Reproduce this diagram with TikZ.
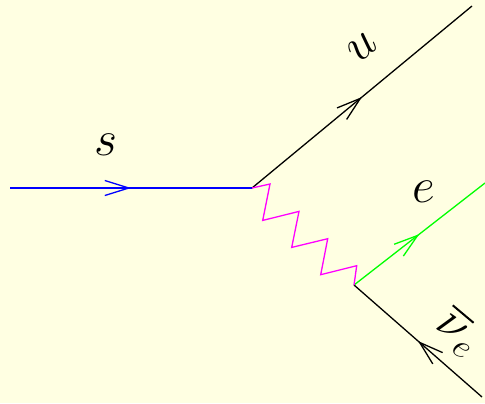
\documentclass[tikz,border=0pt]{standalone}
\usepackage{amsmath}
\usepackage{xcolor}
\usetikzlibrary{arrows.meta, decorations.markings}

\definecolor{paper}{RGB}{255,255,226}
\definecolor{wpink}{RGB}{255,0,255}
\definecolor{egreen}{RGB}{0,255,0}
\definecolor{sblue}{RGB}{0,0,255}
\tikzset{
  fermion/.style={line width=0.65pt, postaction={decorate},
    decoration={markings, mark=at position 0.5 with {\arrow{Straight Barb[length=12pt, width=7.5pt, line width=0.65pt]}}}},
  boson/.style={line width=0.65pt, wpink, line join=miter},
  lbl/.style={inner sep=0pt, font=\fontsize{26}{30}\selectfont}
}

\begin{document}
\begin{tikzpicture}[x=0.5pt, y=-0.5pt]
      \useasboundingbox[fill=paper] (0,0) rectangle (485,403);

      % vertices and free ends
      \coordinate (va) at (252,188);
      \coordinate (vb) at (354,285);
      \coordinate (sin) at (10,188);
      \coordinate (uout) at (472,6);
      \coordinate (eout) at (485,183);
      \coordinate (nuout) at (482,397);

      % fermion lines
      \draw[fermion, sblue] (sin) -- (va);
      \draw[fermion] (va) -- (uout);
      \draw[fermion, egreen] (vb) -- (eout);
      \draw[fermion] (nuout) -- (vb);

      % W propagator
      \draw[boson] (va) -- ++(18,-4) -- ++(-7.3,36.4) -- ++(36.3,-9) -- ++(-7.3,36)
        -- ++(36,-8.7) -- ++(-7,36) -- ++(36,-9) -- (vb);

      % labels
      \node[lbl] (ls) at (106,145) {$s$};
      \node[lbl, rotate=39.6] (lu) at (362,47) {$u$};
      \node[lbl] (le) at (424,192) {$e$};
      \node[lbl, rotate=-40] (lnu) at (459,332) {$\overline{\nu}_e$};
\end{tikzpicture}
\end{document}
